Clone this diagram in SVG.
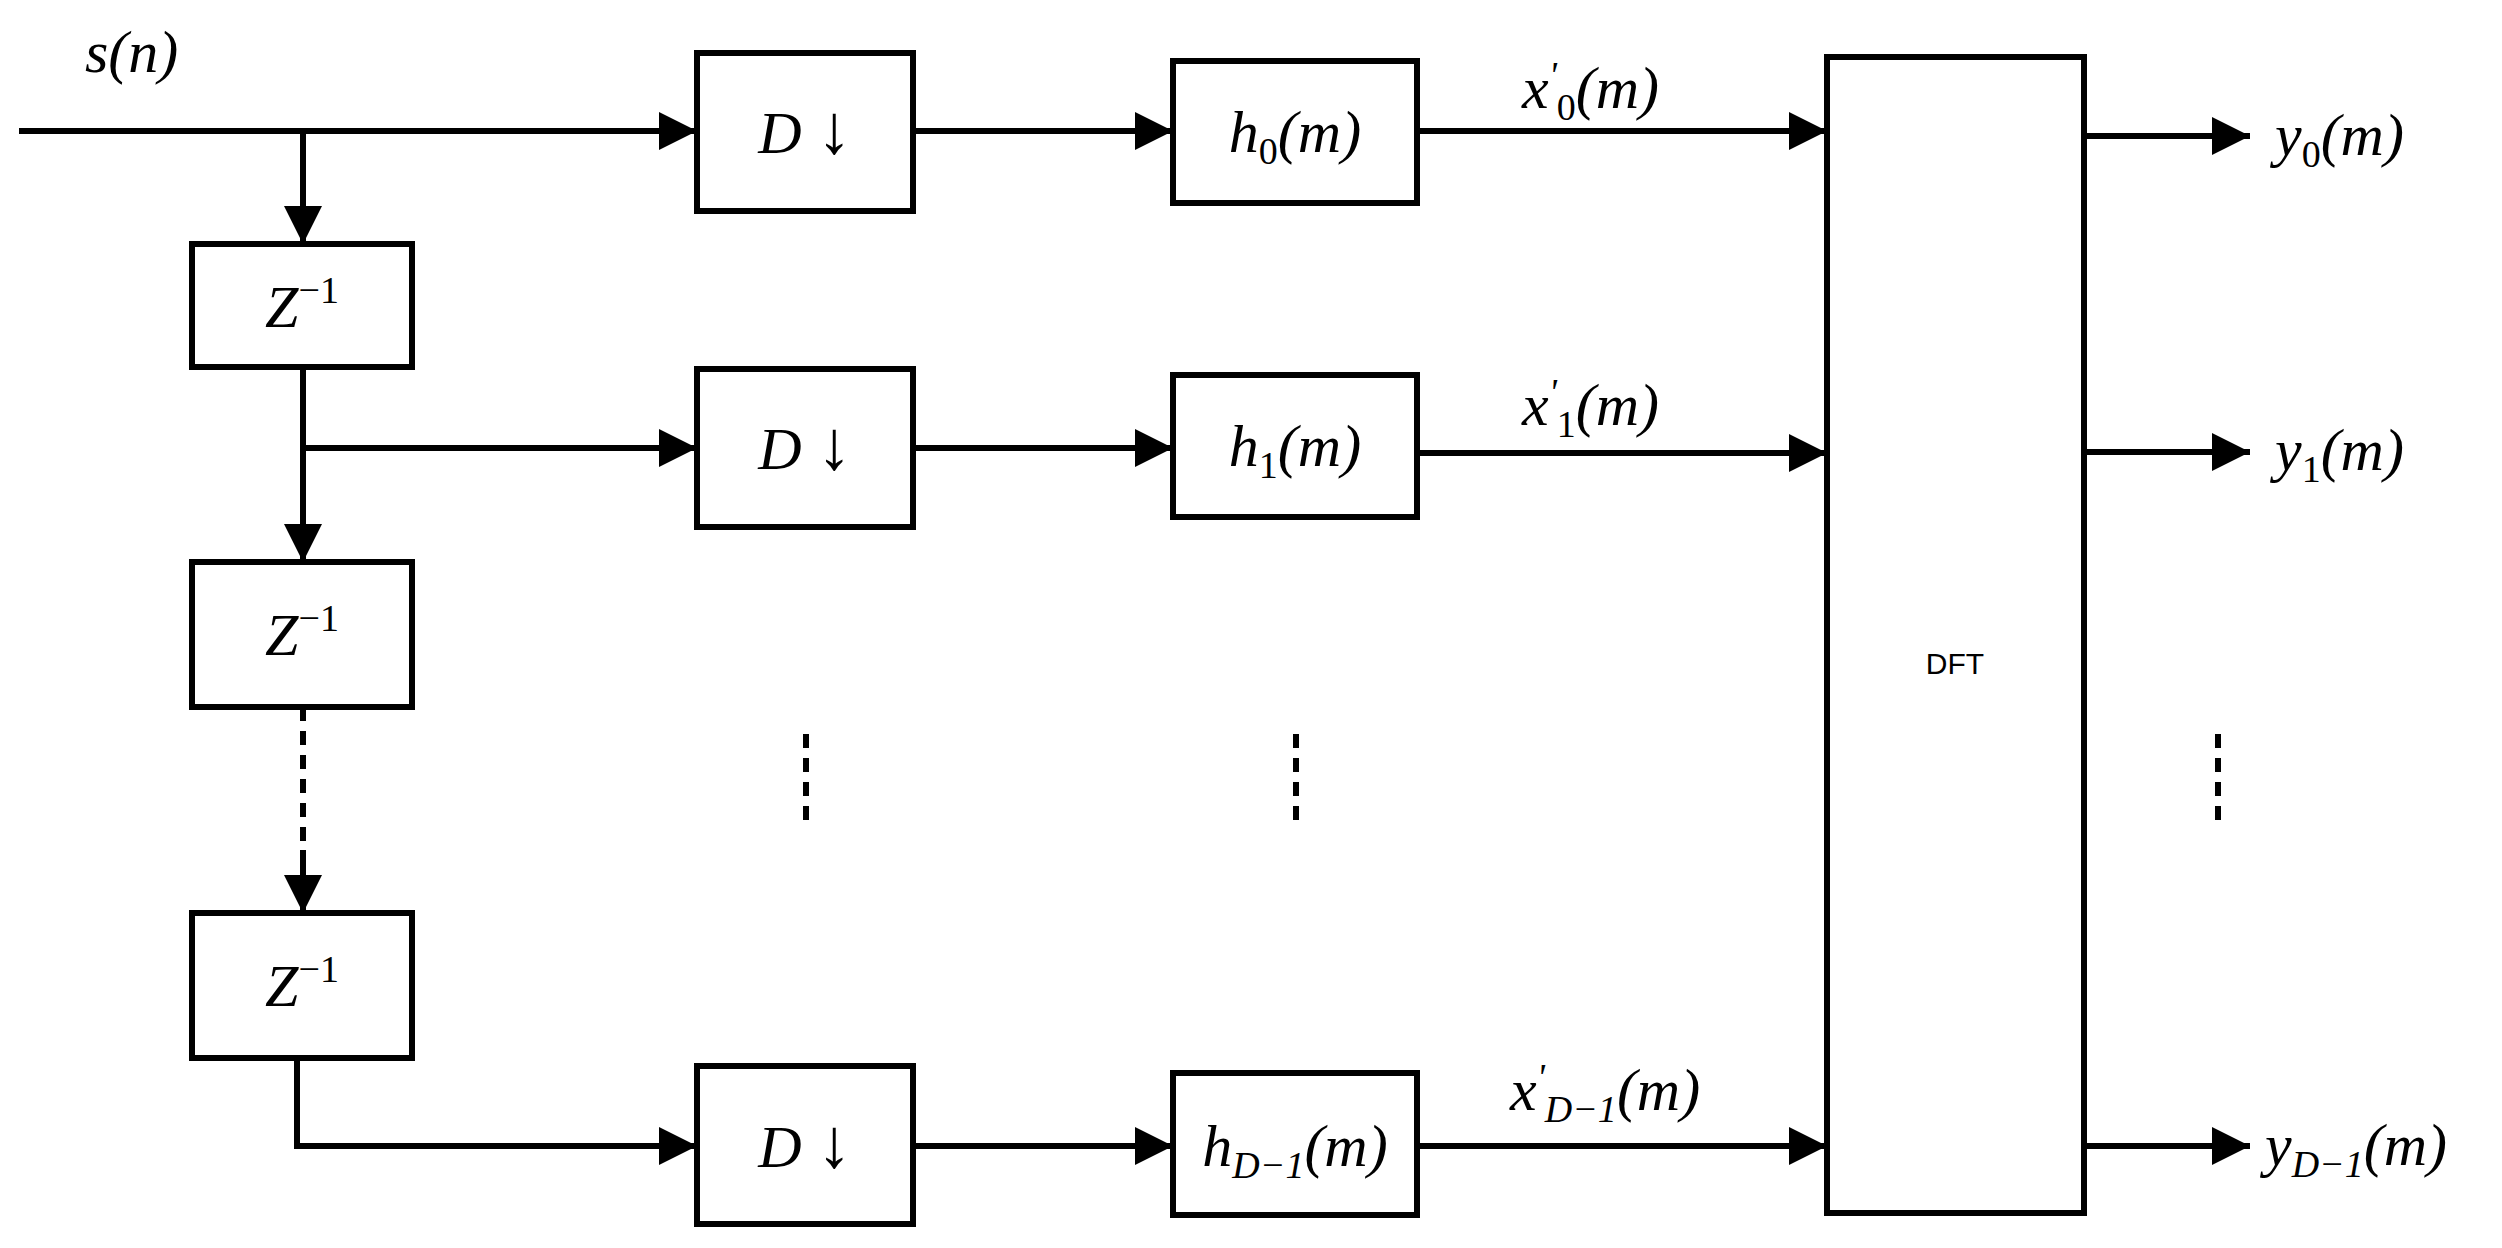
<svg xmlns="http://www.w3.org/2000/svg" width="2502" height="1248" viewBox="0 0 2502 1248">
<style>
.b{fill:#fff;stroke:#000;stroke-width:6}
.l{fill:none;stroke:#000;stroke-width:6}
.d{fill:none;stroke:#000;stroke-width:6;stroke-dasharray:14 10}
text{font-family:"Liberation Serif",serif;font-style:italic;font-size:60px;fill:#000}
.s{font-size:38px}
.c{text-anchor:middle}
.ar{font-style:normal;font-size:70px}
</style>
<defs>
<marker id="ah" viewBox="0 0 10 10" refX="10" refY="5" markerWidth="38" markerHeight="38" orient="auto" markerUnits="userSpaceOnUse"><path d="M0,0 L10,5 L0,10 z" fill="#000"/></marker></defs>
<g id="connectors">
<path class="l" d="M19,131 H697" marker-end="url(#ah)"/>
<path class="l" d="M303,131 V244" marker-end="url(#ah)"/>
<path class="l" d="M303,367 V562" marker-end="url(#ah)"/>
<path class="l" d="M303,448 H697" marker-end="url(#ah)"/>
<path class="d" d="M303,707 V850"/>
<path class="l" d="M303,850 V913" marker-end="url(#ah)"/>
<path class="l" d="M297,1058 V1146 H697" marker-end="url(#ah)"/>
<path class="l" d="M913,131 H1173" marker-end="url(#ah)"/>
<path class="l" d="M913,448 H1173" marker-end="url(#ah)"/>
<path class="l" d="M913,1146 H1173" marker-end="url(#ah)"/>
<path class="l" d="M1417,131 H1827" marker-end="url(#ah)"/>
<path class="l" d="M1417,453 H1827" marker-end="url(#ah)"/>
<path class="l" d="M1417,1146 H1827" marker-end="url(#ah)"/>
<path class="l" d="M2084,136 H2250" marker-end="url(#ah)"/>
<path class="l" d="M2084,452 H2250" marker-end="url(#ah)"/>
<path class="l" d="M2084,1146 H2250" marker-end="url(#ah)"/>
<path class="d" d="M806,734 V822 M1296,734 V822 M2218,734 V822"/>
</g>
<text x="85" y="72">s(n)</text>
<g id="z1"><rect class="b" x="192" y="244" width="220" height="123"/><text class="c" x="302" y="327">Z<tspan class="s" dy="-24" font-style="normal">−1</tspan></text></g>
<g id="z2"><rect class="b" x="192" y="562" width="220" height="145"/><text class="c" x="302" y="655">Z<tspan class="s" dy="-24" font-style="normal">−1</tspan></text></g>
<g id="z3"><rect class="b" x="192" y="913" width="220" height="145"/><text class="c" x="302" y="1006">Z<tspan class="s" dy="-24" font-style="normal">−1</tspan></text></g>
<g id="d0"><rect class="b" x="697" y="53" width="216" height="158"/><text class="c" x="805" y="153">D <tspan class="ar">↓</tspan></text></g>
<g id="d1"><rect class="b" x="697" y="369" width="216" height="158"/><text class="c" x="805" y="469">D <tspan class="ar">↓</tspan></text></g>
<g id="d2"><rect class="b" x="697" y="1066" width="216" height="158"/><text class="c" x="805" y="1167">D <tspan class="ar">↓</tspan></text></g>
<g id="h0"><rect class="b" x="1173" y="61" width="244" height="142"/><text class="c" x="1295" y="152">h<tspan class="s" dy="12" font-style="normal">0</tspan><tspan dy="-12">(m)</tspan></text></g>
<g id="h1"><rect class="b" x="1173" y="375" width="244" height="142"/><text class="c" x="1295" y="466">h<tspan class="s" dy="12" font-style="normal">1</tspan><tspan dy="-12">(m)</tspan></text></g>
<g id="h2"><rect class="b" x="1173" y="1073" width="244" height="142"/><text class="c" x="1295" y="1166">h<tspan class="s" dy="12">D−1</tspan><tspan dy="-12">(m)</tspan></text></g>
<g id="dft"><rect class="b" x="1827" y="57" width="257" height="1156"/><text x="1955" y="674" class="c" style="font-style:normal;font-family:'Liberation Sans',sans-serif;font-size:30px">DFT</text></g>
<text x="1522" y="108">x<tspan class="s" dy="-20">'</tspan><tspan class="s" dy="32" font-style="normal">0</tspan><tspan dy="-12">(m)</tspan></text>
<text x="1522" y="425">x<tspan class="s" dy="-20">'</tspan><tspan class="s" dy="32" font-style="normal">1</tspan><tspan dy="-12">(m)</tspan></text>
<text x="1510" y="1110">x<tspan class="s" dy="-20">'</tspan><tspan class="s" dy="32">D−1</tspan><tspan dy="-12">(m)</tspan></text>
<text x="2275" y="155">y<tspan class="s" dy="12" font-style="normal">0</tspan><tspan dy="-12">(m)</tspan></text>
<text x="2275" y="470">y<tspan class="s" dy="12" font-style="normal">1</tspan><tspan dy="-12">(m)</tspan></text>
<text x="2265" y="1165">y<tspan class="s" dy="12">D−1</tspan><tspan dy="-12">(m)</tspan></text>
</svg>
